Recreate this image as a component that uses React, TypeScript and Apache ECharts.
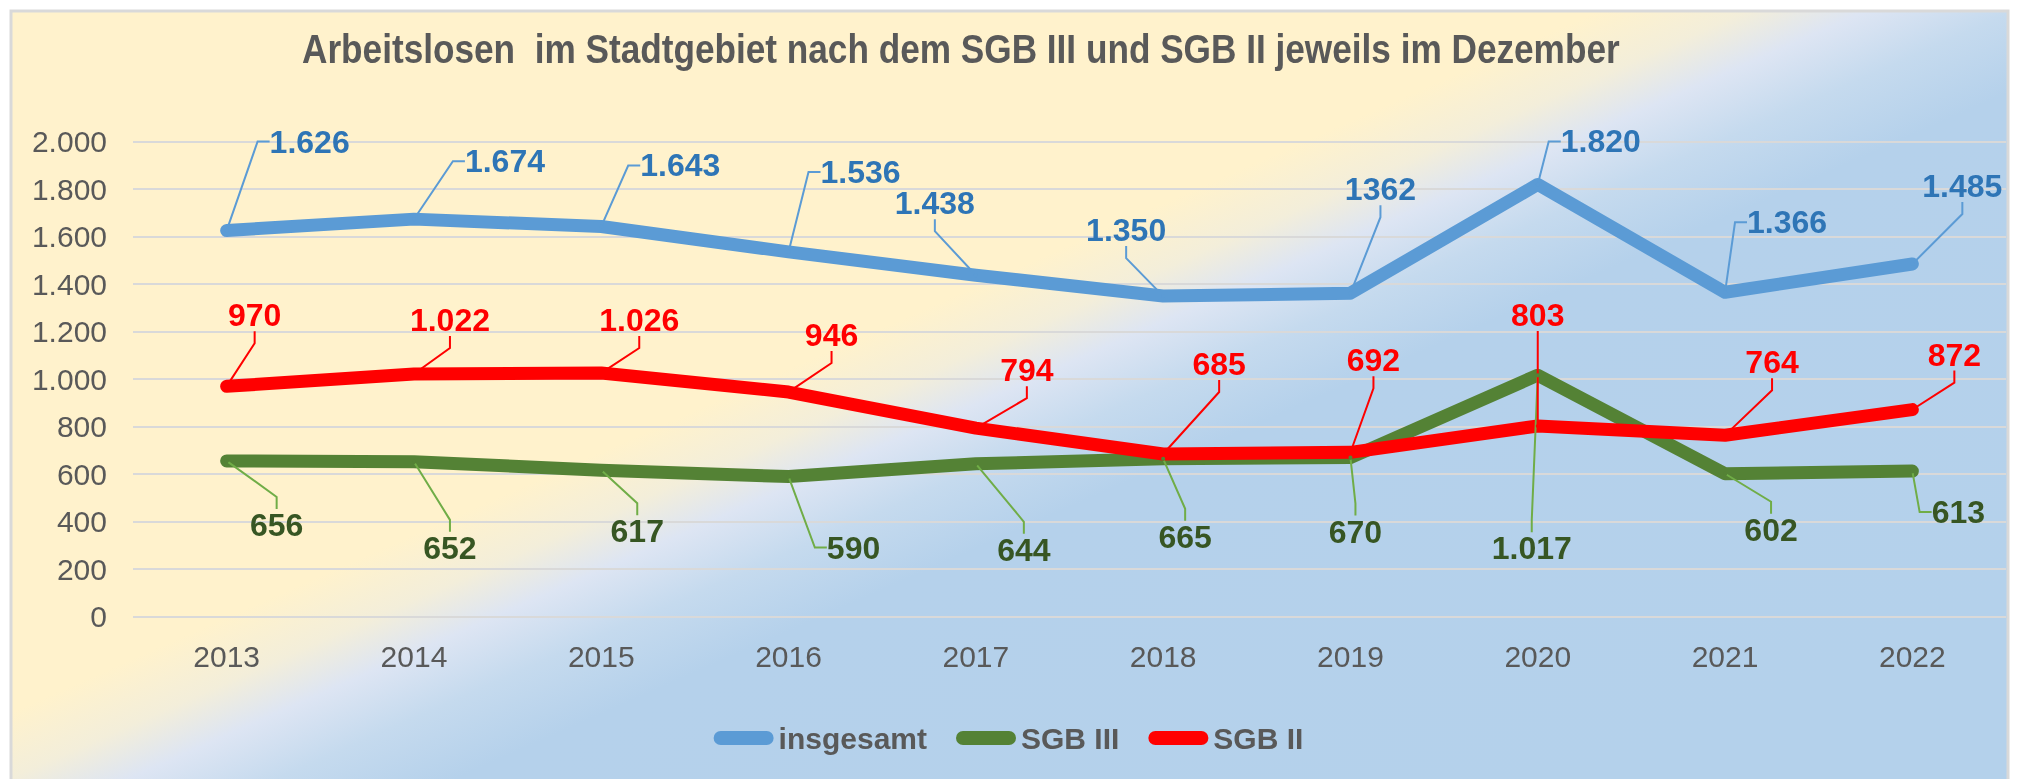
import React, { useEffect, useRef } from "react";
import * as echarts from "echarts";

const years = ["2013", "2014", "2015", "2016", "2017", "2018", "2019", "2020", "2021", "2022"];
const insgesamt = [1626, 1674, 1643, 1536, 1438, 1350, 1362, 1820, 1366, 1485];
const sgb3 = [656, 652, 617, 590, 644, 665, 670, 1017, 602, 613];
const sgb2 = [970, 1022, 1026, 946, 794, 685, 692, 803, 764, 872];
// label texts as printed in the source (2019 total printed without separator)
const insgesamtLabels = ["1.626", "1.674", "1.643", "1.536", "1.438", "1.350", "1362", "1.820", "1.366", "1.485"];

const yMin = 0;
const yMax = 2000;
const yStep = 200;

const title = "Arbeitslosen  im Stadtgebiet nach dem SGB III und SGB II jeweils im Dezember";

// label offsets (layout only), relative to each data point
const blueOffsets = [[83, -89], [91, -58], [79, -61], [72, -80], [-41, -72], [-37, -66], [30, -104], [63, -43], [62, -70], [50, -78]];
const redOffsets = [[28, -71], [36, -54], [38, -53], [43, -57], [51, -58], [56, -90], [23, -92], [0, -111], [47, -73], [42, -55]];
const greenOffsets = [[50, 64], [36, 86], [36, 61], [65, 71], [48, 86], [22, 78], [5, 74], [-6, 173], [46, 56], [46, 41]];

const BOLD = "'Liberation Sans', Arial, sans-serif";
const REG = "'Liberation Sans', Arial, sans-serif";
const GREY = "#595959";

function de(v: number): string {
  const s = String(Math.round(v));
  return s.replace(/\B(?=(\d{3})+(?!\d))/g, ".");
}

function makeSeries(
  name: string,
  data: number[],
  lineColor: string,
  labelColor: string,
  leaderColor: string,
  offsets: number[][],
  texts?: string[]
) {
  return {
    name,
    type: "line",
    data,
    symbol: "circle",
    symbolSize: 4,
    showSymbol: true,
    itemStyle: { color: lineColor },
    lineStyle: { color: lineColor, width: 13, cap: "round", join: "round" },
    label: {
      show: true,
      position: "inside",
      color: labelColor,
      fontFamily: BOLD,
      fontWeight: "bold",
      fontSize: 32,
      formatter: (p: any) => (texts ? texts[p.dataIndex] : de(p.value)),
    },
    labelLine: { show: true, length2: 12, lineStyle: { color: leaderColor, width: 2 } },
    labelLayout: (p: any) => ({ dx: offsets[p.dataIndex][0], dy: offsets[p.dataIndex][1] }),
    emphasis: { disabled: true },
  };
}

export default function App() {
  const ref = useRef<HTMLDivElement>(null);
  useEffect(() => {
    if (!ref.current) return;
    const chart = echarts.init(ref.current, undefined, { renderer: "svg" });
    const pill = "path://M7,0 L53,0 A7,7 0 0 1 53,14 L7,14 A7,7 0 0 1 7,0 Z";
    chart.setOption({
      animation: false,
      graphic: [
        {
          type: "rect",
          z: -100,
          silent: true,
          shape: { x: 11, y: 11, width: 1997, height: 800 },
          style: {
            stroke: "#D9D9D9",
            lineWidth: 3,
            fill: new echarts.graphic.LinearGradient(
              811,
              -179,
              1296,
              919,
              [
                { offset: 0, color: "#FFF2CC" },
                { offset: 0.41, color: "#FFF2CC" },
                { offset: 0.46, color: "#F3EEDA" },
                { offset: 0.5, color: "#DDE5F3" },
                { offset: 0.55, color: "#C5DAEE" },
                { offset: 0.61, color: "#B5D1EB" },
                { offset: 1, color: "#B4D1EB" },
              ],
              true
            ),
          },
        },
        {
          type: "text",
          x: 302,
          y: 29,
          scaleX: 0.88,
          silent: true,
          style: {
            text: title,
            fill: GREY,
            font: "bold 40px 'Liberation Sans', Arial, sans-serif",
            verticalAlign: "top",
          },
        },
      ],
      legend: {
        data: ["insgesamt", "SGB III", "SGB II"],
        left: "center",
        top: 718,
        icon: pill,
        itemWidth: 60,
        itemHeight: 14,
        itemGap: 29,
        textStyle: { fontFamily: BOLD, fontWeight: "bold", fontSize: 30, color: GREY },
      },
      grid: { left: 133, right: 11, top: 141.7, bottom: 162.3, containLabel: false },
      xAxis: {
        type: "category",
        data: years,
        boundaryGap: true,
        axisLine: { show: false },
        axisTick: { show: false },
        axisLabel: { fontFamily: REG, fontSize: 30, color: GREY, margin: 25 },
      },
      yAxis: {
        type: "value",
        min: yMin,
        max: yMax,
        interval: yStep,
        axisLine: { show: false },
        axisTick: { show: false },
        axisLabel: { fontFamily: REG, fontSize: 30, color: GREY, margin: 26, formatter: (v: number) => de(v) },
        splitLine: { lineStyle: { color: "#D9D9D9", width: 2 } },
      },
      series: [
        makeSeries("insgesamt", insgesamt, "#5B9BD5", "#2E75B6", "#5B9BD5", blueOffsets, insgesamtLabels),
        makeSeries("SGB III", sgb3, "#548235", "#375623", "#70AD47", greenOffsets),
        makeSeries("SGB II", sgb2, "#FF0000", "#FF0000", "#FF0000", redOffsets),
      ],
    });
    return () => chart.dispose();
  }, []);
  return <div ref={ref} style={{ position: "fixed", left: 0, top: 0, width: 2017, height: 779 }} />;
}
